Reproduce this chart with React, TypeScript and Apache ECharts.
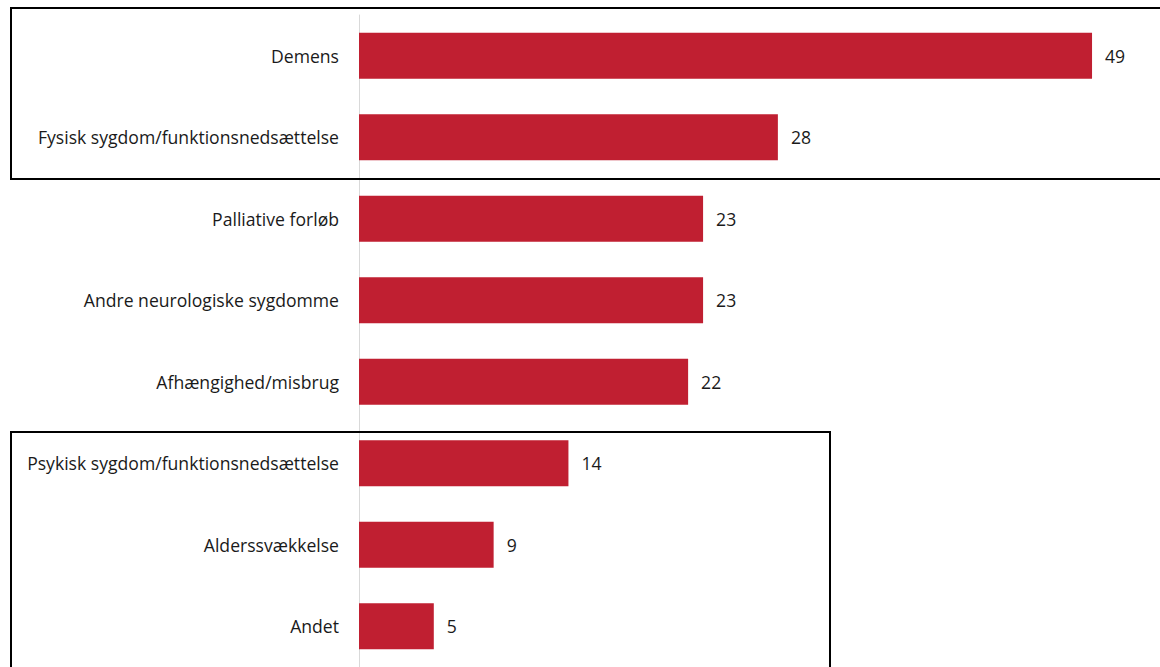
import React, { useEffect, useRef } from "react";
import * as echarts from "echarts";

const categories = [
  "Demens",
  "Fysisk sygdom/funktionsnedsættelse",
  "Palliative forløb",
  "Andre neurologiske sygdomme",
  "Afhængighed/misbrug",
  "Psykisk sygdom/funktionsnedsættelse",
  "Alderssvækkelse",
  "Andet",
];
const values = [49, 28, 23, 23, 22, 14, 9, 5];

const FONT = "'Open Sans', 'Noto Sans', sans-serif";

export default function App() {
  const ref = useRef<HTMLDivElement>(null);
  useEffect(() => {
    if (!ref.current) return;
    const chart = echarts.init(ref.current, undefined, { renderer: "svg" });
    chart.setOption({
      animation: false,
      backgroundColor: "#ffffff",
      grid: { left: 359, top: 15, width: 748, height: 653, containLabel: false },
      xAxis: {
        type: "value",
        min: 0,
        max: 50,
        show: false,
      },
      yAxis: {
        type: "category",
        data: categories,
        inverse: true,
        axisLine: { show: true, lineStyle: { color: "#d9d9d9", width: 1 } },
        axisTick: { show: false },
        axisLabel: {
          margin: 20,
          color: "#1a1a1a",
          fontSize: 17.6,
          fontFamily: FONT,
        },
      },
      series: [
        {
          type: "bar",
          data: values,
          barWidth: 46,
          itemStyle: { color: "#c01f31" },
          label: {
            show: true,
            position: "right",
            distance: 13,
            color: "#1a1a1a",
            fontSize: 17.6,
            fontFamily: FONT,
          },
        },
      ],
      graphic: [
        {
          type: "rect",
          shape: { x: 11, y: 8, width: 1170, height: 171 },
          style: { fill: "none", stroke: "#000", lineWidth: 2 },
          z: 100,
        },
        {
          type: "rect",
          shape: { x: 11, y: 432, width: 819, height: 300 },
          style: { fill: "none", stroke: "#000", lineWidth: 2 },
          z: 100,
        },
      ],
    });
    return () => chart.dispose();
  }, []);
  return (
    <div
      ref={ref}
      style={{ position: "absolute", left: 0, top: 0, width: 1160, height: 667 }}
    />
  );
}
